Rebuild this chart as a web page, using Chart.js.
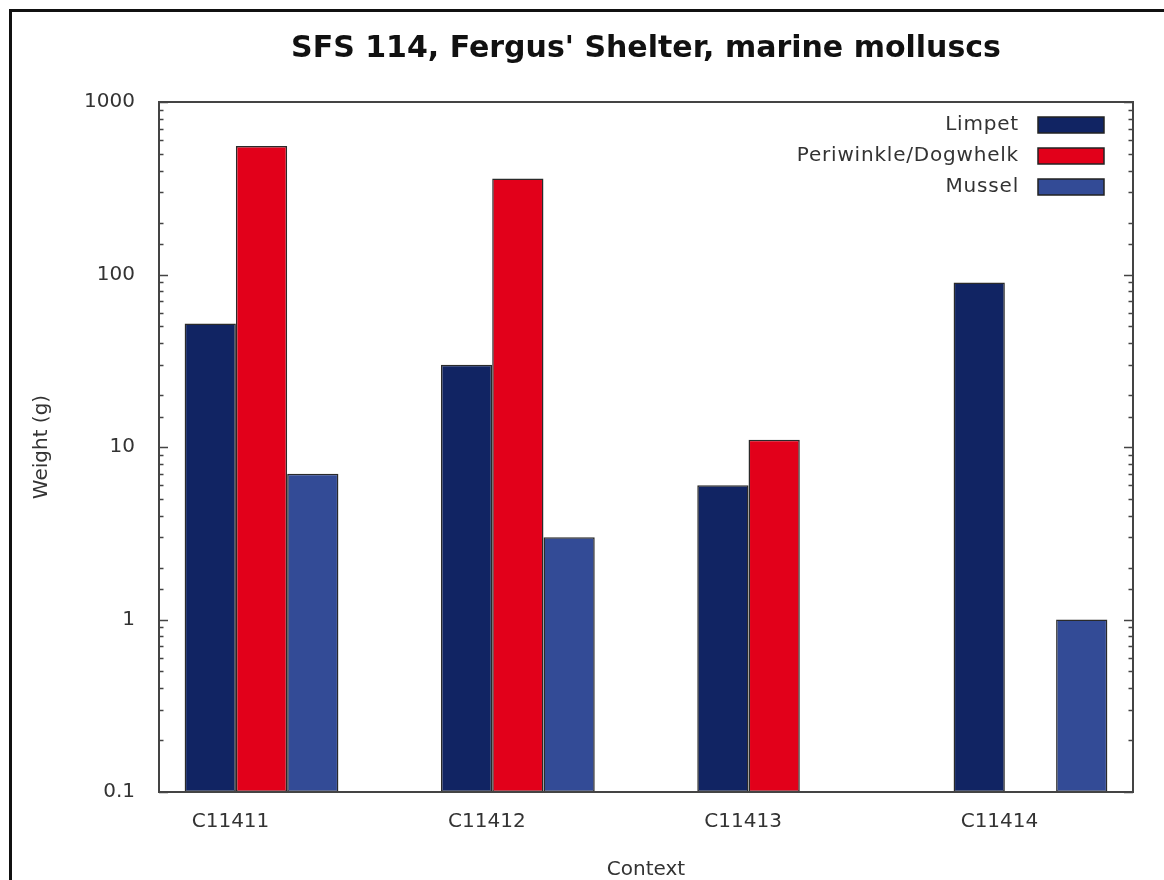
<!DOCTYPE html>
<html>
<head>
<meta charset="utf-8">
<title>SFS 114, Fergus' Shelter, marine molluscs</title>
<script src="https://cdn.jsdelivr.net/npm/chart.js@4/dist/chart.umd.min.js"></script>
<style>
  html, body { margin: 0; padding: 0; background: #fff; overflow: hidden; }
  #wrap { position: relative; width: 1164px; height: 880px; }
  #frame {
    position: absolute; left: 9px; top: 9px; right: -20px; bottom: -20px;
    border: 3px solid #111; pointer-events: none;
  }
  canvas { position: absolute; left: 0; top: 0; }
</style>
</head>
<body>
<div id="wrap">
  <canvas id="chart" width="1164" height="880"></canvas>
  <div id="frame"></div>
</div>
<script>
// contexts along the x axis
const contexts = ["C11411", "C11412", "C11413", "C11414"];

// shell weight per context (g), null where nothing was recovered
const limpet = [52, 30, 6, 90];
const periwinkle = [555, 360, 11, null];
const mussel = [7, 3, null, 1];

const seriesNames = ["Limpet", "Periwinkle/Dogwhelk", "Mussel"];
const seriesColors = ["#112463", "#e2001a", "#334b96"];

// labelled decades on the log axis
const yTickValues = [0.1, 1, 10, 100, 1000];
const yTickLabels = ["0.1", "1", "10", "100", "1000"];

const textColor = "#333333";
const axisColor = "#444444";
const font = "'DejaVu Sans', Verdana, sans-serif";

const toPoints = arr => arr.map((v, i) => ({ x: i, y: v }));

const isDecade = v => yTickValues.some(t => Math.abs(Math.log10(v) - Math.log10(t)) < 1e-6);

// plot frame plus inward tick marks on both vertical sides (gnuplot look)
const frameAndTicks = {
  id: "frameAndTicks",
  afterDatasetsDraw(chart) {
    const { ctx, chartArea } = chart;
    const y = chart.scales.y;
    ctx.save();
    ctx.strokeStyle = axisColor;
    ctx.lineWidth = 1.5;
    y.ticks.forEach(t => {
      const py = Math.round(y.getPixelForValue(t.value)) + 0.5;
      const len = isDecade(t.value) ? 9 : 4.5;
      ctx.beginPath();
      ctx.moveTo(chartArea.left, py);
      ctx.lineTo(chartArea.left + len, py);
      ctx.moveTo(chartArea.right, py);
      ctx.lineTo(chartArea.right - len, py);
      ctx.stroke();
    });
    ctx.lineWidth = 2;
    ctx.strokeRect(chartArea.left, chartArea.top, chartArea.right - chartArea.left, chartArea.bottom - chartArea.top);
    ctx.restore();
  }
};

// key in the top right corner: right-aligned name, swatch after it
const keyBox = {
  id: "keyBox",
  afterDraw(chart) {
    const { ctx, chartArea } = chart;
    const boxW = 66, boxH = 16;
    const boxRight = chartArea.right - 29;
    const boxLeft = boxRight - boxW;
    ctx.save();
    ctx.font = "20px " + font;
    ctx.letterSpacing = "0.8px";
    ctx.textAlign = "right";
    ctx.textBaseline = "middle";
    chart.data.datasets.forEach((ds, i) => {
      const cy = chartArea.top + 23 + i * 31;
      ctx.fillStyle = textColor;
      ctx.fillText(ds.label, boxLeft - 19, cy);
      ctx.fillStyle = ds.backgroundColor;
      ctx.fillRect(boxLeft, cy - boxH / 2, boxW, boxH);
      ctx.strokeStyle = "#222";
      ctx.lineWidth = 1.5;
      ctx.strokeRect(boxLeft, cy - boxH / 2, boxW, boxH);
    });
    ctx.letterSpacing = "0px";
    ctx.restore();
  }
};

const series = [limpet, periwinkle, mussel];

new Chart(document.getElementById("chart"), {
  type: "bar",
  data: {
    datasets: series.map((arr, i) => ({
      label: seriesNames[i],
      data: toPoints(arr),
      backgroundColor: seriesColors[i],
      borderColor: "#2a2a2a",
      borderWidth: 1.5,
      borderSkipped: false,
      categoryPercentage: 0.6,
      barPercentage: 1.0
    }))
  },
  options: {
    responsive: false,
    animation: false,
    layout: { padding: { left: 0, right: 31, top: 0, bottom: 0 } },
    plugins: {
      legend: { display: false },
      tooltip: { enabled: false },
      title: {
        display: true,
        fullSize: false,
        text: "SFS 114, Fergus' Shelter, marine molluscs",
        color: "#111",
        font: { family: font, size: 30, weight: "bold", lineHeight: 1.2 },
        padding: { top: 31, bottom: 35 }
      }
    },
    scales: {
      x: {
        type: "linear",
        position: "bottom",
        offset: false,
        min: -0.4,
        max: 3.4,
        grid: { display: false, drawTicks: false, offset: false },
        border: { display: false },
        ticks: {
          stepSize: 1,
          includeBounds: false,
          autoSkip: false,
          maxRotation: 0,
          labelOffset: -31,
          padding: 18,
          color: textColor,
          font: { family: font, size: 20 },
          callback: v => contexts[v] ?? ""
        },
        title: {
          display: true,
          text: "Context",
          color: textColor,
          font: { family: font, size: 20, lineHeight: 1 },
          padding: { top: 0, bottom: 0 }
        },
        afterFit(scale) { scale.height = 88; }
      },
      y: {
        type: "logarithmic",
        min: 0.1,
        max: 1000,
        grid: { display: false, drawTicks: false },
        border: { display: false },
        ticks: {
          autoSkip: false,
          padding: 24,
          color: textColor,
          font: { family: font, size: 20 },
          callback: v => {
            const i = yTickValues.findIndex(t => Math.abs(Math.log10(v) - Math.log10(t)) < 1e-6);
            return i >= 0 ? yTickLabels[i] : "";
          }
        },
        title: {
          display: true,
          text: "Weight (g)",
          color: textColor,
          font: { family: font, size: 20, lineHeight: 1.2 },
          padding: { top: 30, bottom: 0 }
        },
        afterFit(scale) { scale.width = 159; }
      }
    }
  },
  plugins: [frameAndTicks, keyBox]
});
</script>
</body>
</html>
